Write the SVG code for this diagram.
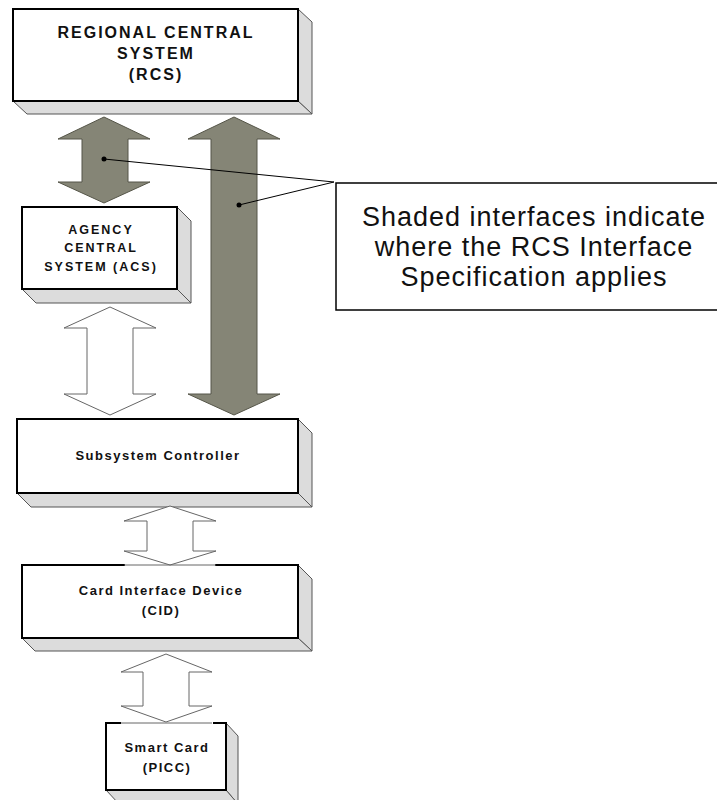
<svg xmlns="http://www.w3.org/2000/svg" width="717" height="800" viewBox="0 0 717 800">
<style>
.face{fill:#ffffff;stroke:#000000;stroke-width:2}
.side{fill:#dcdcdc;stroke:#555555;stroke-width:1;stroke-linejoin:round}
.lbl{font-family:"Liberation Sans",Arial,sans-serif;font-weight:bold;font-size:13px;letter-spacing:1.5px;fill:#111111;text-anchor:middle}
.acs{font-size:12.5px;letter-spacing:2px}
.big{font-size:16px;letter-spacing:2px}
.callout{font-family:"Liberation Sans",Arial,sans-serif;font-size:27px;letter-spacing:1px;fill:#111111;text-anchor:middle}
.garrow{fill:#858576;stroke:#555548;stroke-width:1}
.warrow{fill:#ffffff;stroke:#666666;stroke-width:1}
.lead{stroke:#000000;stroke-width:1;fill:none}
</style>
<rect width="717" height="800" fill="#ffffff"/>

<g id="rcs">
<polygon class="side" points="298,9 312,22 312,114 298,101"/>
<polygon class="side" points="13,101 27,114 312,114 298,101"/>
<rect class="face" x="13" y="9" width="285" height="92"/>
<text class="lbl big" x="156" y="38">REGIONAL CENTRAL</text>
<text class="lbl big" x="156" y="59">SYSTEM</text>
<text class="lbl big" x="156" y="80">(RCS)</text>
</g>

<g id="acs">
<polygon class="side" points="177,207 191,221 191,303 177,289"/>
<polygon class="side" points="22,289 36,303 191,303 177,289"/>
<rect class="face" x="22" y="207" width="155" height="82"/>
<text class="lbl acs" x="101" y="234">AGENCY</text>
<text class="lbl acs" x="101" y="252">CENTRAL</text>
<text class="lbl acs" x="101" y="271">SYSTEM (ACS)</text>
</g>

<g id="subsystem">
<polygon class="side" points="298,419 312,433 312,507 298,493"/>
<polygon class="side" points="17,493 31,507 312,507 298,493"/>
<rect class="face" x="17" y="419" width="281" height="74"/>
<text class="lbl" x="158" y="460">Subsystem Controller</text>
</g>

<g id="cid">
<polygon class="side" points="298,565 312,579 312,651 298,638"/>
<polygon class="side" points="22,638 35,651 312,651 298,638"/>
<rect class="face" x="22" y="565" width="276" height="73"/>
<text class="lbl" x="161" y="595">Card Interface Device</text>
<text class="lbl" x="161" y="615">(CID)</text>
</g>

<g id="smartcard">
<polygon class="side" points="226,723 238,736 238,804 226,790"/>
<polygon class="side" points="106,790 119,804 238,804 226,790"/>
<rect class="face" x="106" y="723" width="120" height="67"/>
<text class="lbl" x="167" y="752">Smart Card</text>
<text class="lbl" x="167" y="772">(PICC)</text>
</g>

<g id="callout">
<rect x="336" y="183" width="390" height="127" fill="#ffffff" stroke="#000000" stroke-width="1.5"/>
<text class="callout" x="534" y="226">Shaded interfaces indicate</text>
<text class="callout" x="534" y="256">where the RCS Interface</text>
<text class="callout" x="534" y="286">Specification applies</text>
</g>

<g id="connectors">
<polygon class="garrow" points="104,117 150,139 128,139 128,182 150,182 104,203 58,182 82,182 82,139 58,139"/>
<polygon class="garrow" points="234,117 280,139 257,139 257,394 280,394 234,415 188,394 211,394 211,139 188,139"/>
<polygon class="warrow" points="110,307 156,328 133,328 133,394 156,394 110,415 64,394 87,394 87,328 64,328"/>
<rect x="125" y="563" width="90" height="4" fill="#ffffff"/>
<polygon class="warrow" points="170,506 216,521 193,521 193,551 216,551 170,565 124,551 147,551 147,521 124,521"/>
<line x1="124" y1="565" x2="216" y2="565" stroke="#666666" stroke-width="1"/>
<rect x="121" y="721" width="92" height="4" fill="#ffffff"/>
<polygon class="warrow" points="166,654 212,672 189,672 189,706 212,706 166,722 121,706 143,706 143,672 121,672"/>
<line x1="121" y1="723" x2="212" y2="723" stroke="#666666" stroke-width="1"/>
<line class="lead" x1="104" y1="159" x2="334" y2="182"/>
<line class="lead" x1="239" y1="205" x2="334" y2="182"/>
<circle cx="104" cy="159" r="2.5" fill="#000000"/>
<circle cx="239" cy="205" r="2.5" fill="#000000"/>
</g>
</svg>
